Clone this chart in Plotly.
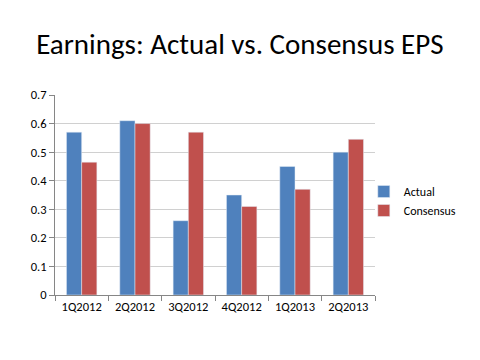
import plotly.graph_objects as go

categories = ["1Q2012", "2Q2012", "3Q2012", "4Q2012", "1Q2013", "2Q2013"]
actual = [0.57, 0.61, 0.26, 0.35, 0.45, 0.50]
consensus = [0.465, 0.60, 0.57, 0.31, 0.37, 0.545]
y_ticks = [0, 0.1, 0.2, 0.3, 0.4, 0.5, 0.6, 0.7]
y_tick_labels = ["0", "0.1", "0.2", "0.3", "0.4", "0.5", "0.6", "0.7"]

fig = go.Figure()
fig.add_trace(go.Bar(x=categories, y=actual, name="Actual", marker_color="#4F81BD"))
fig.add_trace(go.Bar(x=categories, y=consensus, name="Consensus", marker_color="#C0504D"))

font_family = "Carlito, Lato, 'Open Sans', sans-serif"
fig.update_layout(
    width=480, height=360,
    margin=dict(l=47, r=113, t=87, b=73),
    paper_bgcolor="white", plot_bgcolor="white",
    title=dict(text="Earnings: Actual vs. Consensus EPS", x=0.483, xanchor="center",
               y=0.9, yanchor="middle",
               font=dict(family=font_family, size=29, color="black")),
    barmode="group", bargap=0.43, bargroupgap=0,
    legend=dict(x=0.965, y=0.47, xanchor="left", yanchor="middle",
                bgcolor="rgba(0,0,0,0)",
                font=dict(family=font_family, size=12, color="black"),
                itemwidth=30, tracegroupgap=6),
    font=dict(family=font_family, size=12, color="black"),
)
fig.update_xaxes(showline=True, linecolor="#868686", ticks="outside", tickson="boundaries",
                 ticklen=5, tickcolor="#868686", showgrid=False,
                 tickfont=dict(size=12.5))
fig.update_yaxes(range=[0, 0.7], tickvals=y_ticks, ticktext=y_tick_labels,
                 showline=True, linecolor="#868686", ticks="outside", ticklen=5,
                 tickcolor="#868686", showgrid=True, gridcolor="#D0D0D0",
                 zeroline=False, tickfont=dict(size=12.5))

fig.write_html("out.html")
